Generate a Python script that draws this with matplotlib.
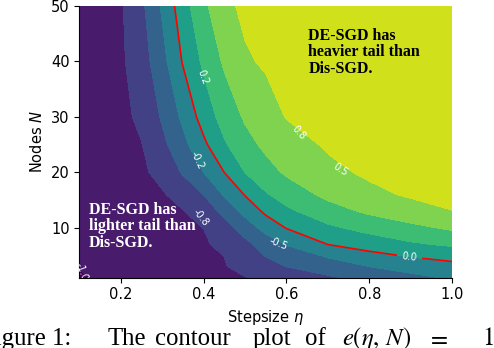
import numpy as np
import matplotlib
matplotlib.use("Agg")
import matplotlib.pyplot as plt

# === DATA ===
eta = [0.1, 0.15, 0.2, 0.25, 0.3, 0.35, 0.4, 0.45, 0.5, 0.55, 0.6, 0.7, 0.8, 0.9, 1.0]
nodes = [1, 3, 5, 7, 10, 13, 16, 20, 25, 30, 40, 50]

# e(eta, N), one row per value of nodes
e_vals = [
    [-1.02, -0.984, -0.951, -0.919, -0.887, -0.854, -0.822, -0.789, -0.757, -0.706, -0.648, -0.534, -0.424, -0.315, -0.22],
    [-0.99, -0.957, -0.925, -0.892, -0.859, -0.826, -0.794, -0.761, -0.688, -0.594, -0.498, -0.375, -0.248, -0.155, -0.06],
    [-0.985, -0.951, -0.918, -0.884, -0.85, -0.818, -0.783, -0.748, -0.618, -0.49, -0.396, -0.217, -0.067, 0.025, 0.07],
    [-0.98, -0.946, -0.911, -0.877, -0.842, -0.808, -0.773, -0.703, -0.563, -0.404, -0.237, 0.002, 0.107, 0.214, 0.29],
    [-0.975, -0.938, -0.90, -0.863, -0.825, -0.788, -0.748, -0.60, -0.393, -0.154, 0.011, 0.207, 0.333, 0.44, 0.54],
    [-0.97, -0.928, -0.886, -0.844, -0.801, -0.759, -0.625, -0.438, -0.167, 0.05, 0.20, 0.40, 0.545, 0.65, 0.745],
    [-0.965, -0.917, -0.868, -0.82, -0.771, -0.661, -0.498, -0.223, 0.014, 0.226, 0.361, 0.559, 0.691, 0.78, 0.83],
    [-0.96, -0.903, -0.845, -0.788, -0.682, -0.475, -0.248, 0.002, 0.252, 0.411, 0.534, 0.69, 0.79, 0.85, 0.90],
    [-0.955, -0.889, -0.823, -0.757, -0.561, -0.322, -0.05, 0.22, 0.417, 0.552, 0.646, 0.78, 0.85, 0.90, 0.93],
    [-0.95, -0.879, -0.807, -0.704, -0.471, -0.20, 0.106, 0.35, 0.531, 0.647, 0.76, 0.84, 0.89, 0.92, 0.95],
    [-0.945, -0.867, -0.788, -0.616, -0.331, 0.019, 0.297, 0.536, 0.72, 0.78, 0.82, 0.86, 0.91, 0.94, 0.97],
    [-0.94, -0.859, -0.777, -0.553, -0.215, 0.146, 0.447, 0.69, 0.80, 0.82, 0.85, 0.91, 0.94, 0.96, 0.98],
]

levels = [-1.25, -1.0, -0.75, -0.5, -0.25, 0.0, 0.25, 0.5, 0.75, 1.0]

# contour labels as they appear in the picture
label_texts = ["-1.0", "-0.8", "-0.2", "0.2", "0.8", "0.5", "-0.5"]
label_eta = [0.106, 0.392, 0.384, 0.399, 0.629, 0.730, 0.580]
label_nodes = [2.0, 11.8, 22.2, 37.2, 27.1, 20.4, 7.2]
label_rot = [-70, -52, -65, -70, -48, -33, -22]

caption_words = ["Figure 1:", "The", "contour", "plot", "of", r"$e(\eta,\, N)$", r"$=$", r"$1$"]
caption_px = [-19, 108, 155, 253, 305, 342, 427, 482]

# === PLOT ===
fig = plt.figure(figsize=(4.94, 3.48), dpi=100)
ax = fig.add_axes([0.1607, 0.202, 0.7546, 0.7808])

Z = np.array(e_vals)
ax.contourf(eta, nodes, Z, levels=levels, cmap="viridis", vmin=-1.02, vmax=1.02)
cs = ax.contour(eta, nodes, Z, levels=[0.0], colors="red", linewidths=1.2)
ax.clabel(cs, fmt={0.0: "0.0"}, colors="white", fontsize=7, manual=[(0.897, 4.6)])

for s, x, y, r in zip(label_texts, label_eta, label_nodes, label_rot):
    ax.text(x, y, s, color="white", fontsize=7, rotation=r,
            ha="center", va="center", clip_on=True)

ax.text(0.653, 46.1, "DE-SGD has\nheavier tail than\nDis-SGD.", color="black",
        family="Liberation Serif", weight="bold", fontsize=11.5, linespacing=1.05,
        ha="left", va="top")
ax.text(0.123, 14.7, "DE-SGD has\nlighter tail than\nDis-SGD.", color="white",
        family="Liberation Serif", weight="bold", fontsize=11.5, linespacing=1.05,
        ha="left", va="top")

ax.set_xlim(0.1, 1.0)
ax.set_ylim(1, 50)
ax.set_xticks([0.2, 0.4, 0.6, 0.8, 1.0])
ax.set_yticks([10, 20, 30, 40, 50])
ax.tick_params(labelsize=10.5)
ax.set_xlabel(r"Stepsize $\eta$", fontsize=10.5)
ax.set_ylabel(r"Nodes $N$", fontsize=10.5)
ax.spines["top"].set_visible(False)
ax.spines["right"].set_visible(False)

for w, px in zip(caption_words, caption_px):
    fig.text(px / 494, 0.010, w, fontsize=17.8, family="Liberation Serif",
             math_fontfamily="stix", va="baseline", ha="left")

fig.savefig("out.png", dpi=100)
